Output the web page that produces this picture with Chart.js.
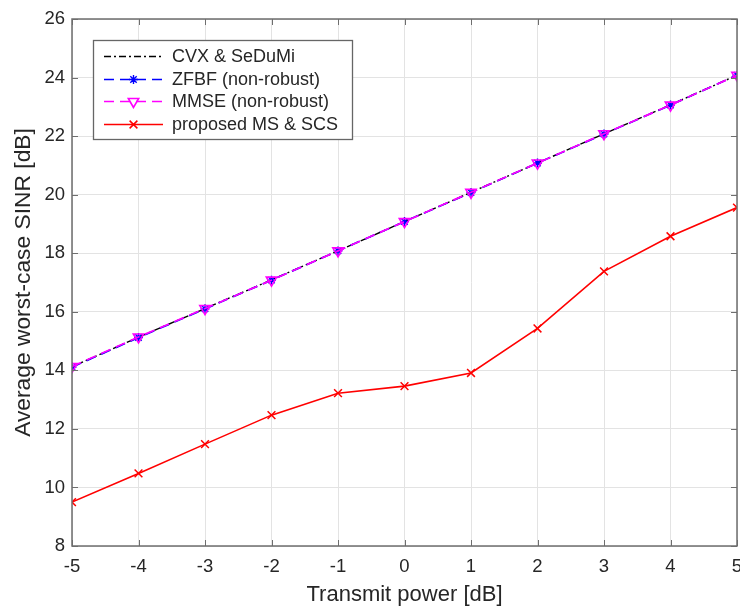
<!DOCTYPE html>
<html>
<head>
<meta charset="utf-8">
<script src="https://cdn.jsdelivr.net/npm/chart.js@4/dist/chart.umd.min.js"></script>
<style>
  html, body { margin: 0; padding: 0; background: #fff; }
  #wrap { width: 740px; height: 610px; }
</style>
</head>
<body>
<div id="wrap"><canvas id="c" width="740" height="610"></canvas></div>
<script>
// Transmit power grid (dB)
const powerDb = [-5, -4, -3, -2, -1, 0, 1, 2, 3, 4, 5];

// Average worst-case SINR (dB) per scheme
const cvxSedumi   = [14.12, 15.13, 16.11, 17.09, 18.08, 19.08, 20.08, 21.08, 22.08, 23.07, 24.08];
const zfbfNonRob  = [14.11, 15.12, 16.10, 17.08, 18.08, 19.08, 20.07, 21.08, 22.07, 23.06, 24.08];
const mmseNonRob  = [14.13, 15.14, 16.11, 17.08, 18.08, 19.08, 20.08, 21.08, 22.08, 23.06, 24.08];
const proposedMs  = [9.50, 10.48, 11.48, 12.47, 13.22, 13.46, 13.91, 15.43, 17.38, 18.58, 19.56];

const seriesNames = ['CVX & SeDuMi', 'ZFBF (non-robust)', 'MMSE (non-robust)', 'proposed MS & SCS'];

const yTicks = [8, 10, 12, 14, 16, 18, 20, 22, 24, 26];

const toPts = arr => arr.map((v, i) => ({ x: powerDb[i], y: v }));

const FONT = '"Liberation Sans", Arial, Helvetica, sans-serif';
const AXIS_COL = '#6e6e6e';
const TEXT_COL = '#262626';
const TICK_FONT = '18.5px ' + FONT;

// inward tick marks on all four sides, the axes box and the x tick labels
const boxPlugin = {
  id: 'box',
  afterDraw(chart) {
    const { ctx, chartArea: a, scales } = chart;
    ctx.save();
    ctx.strokeStyle = AXIS_COL;
    ctx.lineWidth = 1;
    const L = 6;
    ctx.beginPath();
    scales.x.ticks.forEach(t => {
      const px = Math.round(scales.x.getPixelForValue(t.value)) + 0.5;
      ctx.moveTo(px, a.bottom); ctx.lineTo(px, a.bottom - L);
      ctx.moveTo(px, a.top); ctx.lineTo(px, a.top + L);
    });
    scales.y.ticks.forEach(t => {
      const py = Math.round(scales.y.getPixelForValue(t.value)) + 0.5;
      ctx.moveTo(a.left, py); ctx.lineTo(a.left + L, py);
      ctx.moveTo(a.right, py); ctx.lineTo(a.right - L, py);
    });
    ctx.stroke();
    ctx.lineWidth = 1.5;
    ctx.strokeRect(a.left, a.top, a.right - a.left, a.bottom - a.top);

    ctx.fillStyle = TEXT_COL;
    ctx.font = TICK_FONT;
    ctx.textAlign = 'center';
    ctx.textBaseline = 'middle';
    scales.x.ticks.forEach(t => {
      ctx.fillText(String(t.value), scales.x.getPixelForValue(t.value), a.bottom + 21);
    });
    ctx.restore();
  }
};

// boxed legend in the upper-left corner of the plot
const legendPlugin = {
  id: 'boxLegend',
  afterDraw(chart) {
    const { ctx } = chart;
    const x0 = 93, y0 = 40, w = 259, h = 99;
    ctx.save();
    ctx.fillStyle = '#fff';
    ctx.fillRect(x0, y0, w, h);
    ctx.strokeStyle = '#666';
    ctx.lineWidth = 1.3;
    ctx.strokeRect(x0 + 0.5, y0 + 0.5, w, h);
    const rowY = [56, 79, 101, 124];
    chart.data.datasets.forEach((ds, r) => {
      const y = rowY[r] + 0.5;
      ctx.strokeStyle = ds.borderColor;
      ctx.lineWidth = ds.borderWidth;
      ctx.setLineDash(ds.borderDash || []);
      ctx.beginPath();
      ctx.moveTo(104, y); ctx.lineTo(163, y);
      ctx.stroke();
      ctx.setLineDash([]);
      if (ds.pointStyle && ds.pointRadius > 0) {
        ctx.strokeStyle = ds.pointBorderColor;
        ctx.fillStyle = 'rgba(0,0,0,0)';
        ctx.lineWidth = ds.pointBorderWidth || 1;
        Chart.helpers.drawPoint(ctx, {
          pointStyle: ds.pointStyle,
          rotation: ds.pointRotation || 0,
          radius: ds.pointRadius,
          borderWidth: ds.pointBorderWidth || 1
        }, 133.5, y);
      }
      ctx.fillStyle = TEXT_COL;
      ctx.font = '18px ' + FONT;
      ctx.textBaseline = 'middle';
      ctx.textAlign = 'left';
      ctx.fillText(ds.label, 172, y + 1);
    });
    ctx.restore();
  }
};

new Chart(document.getElementById('c'), {
  type: 'line',
  data: {
    datasets: [
      {
        label: seriesNames[0], data: toPts(cvxSedumi),
        borderColor: '#000', borderWidth: 1.4, borderDash: [7, 3, 2, 3],
        pointRadius: 0, pointStyle: false, order: 4
      },
      {
        label: seriesNames[1], data: toPts(zfbfNonRob),
        borderColor: '#0000ff', borderWidth: 1.7, borderDash: [10, 6],
        pointStyle: 'star', pointRadius: 4.5, pointBorderColor: '#0000ff',
        pointBackgroundColor: 'rgba(0,0,0,0)', pointBorderWidth: 1.4, order: 3
      },
      {
        label: seriesNames[2], data: toPts(mmseNonRob),
        borderColor: '#ff00ff', borderWidth: 1.7, borderDash: [10, 6],
        pointStyle: 'triangle', pointRotation: 180, pointRadius: 6,
        pointBorderColor: '#ff00ff', pointBackgroundColor: 'rgba(0,0,0,0)',
        pointBorderWidth: 1.6, order: 2
      },
      {
        label: seriesNames[3], data: toPts(proposedMs),
        borderColor: '#ff0000', borderWidth: 1.6,
        pointStyle: 'crossRot', pointRadius: 5.5, pointBorderColor: '#ff0000',
        pointBackgroundColor: 'rgba(0,0,0,0)', pointBorderWidth: 1.5, order: 1
      }
    ]
  },
  options: {
    responsive: false,
    animation: false,
    devicePixelRatio: 1,
    layout: { autoPadding: false, padding: { top: 19, right: 3, left: 0, bottom: 0 } },
    plugins: { legend: { display: false }, tooltip: { enabled: false } },
    elements: { line: { tension: 0 } },
    scales: {
      x: {
        type: 'linear', min: -5, max: 5,
        afterBuildTicks: s => { s.ticks = powerDb.map(v => ({ value: v })); },
        grid: { color: '#e3e3e3', lineWidth: 1, drawTicks: false },
        border: { display: false },
        ticks: { display: false },
        title: { display: true, text: 'Transmit power [dB]', color: TEXT_COL,
                 font: { family: FONT, size: 22 }, padding: { top: 2, bottom: 2 } },
        afterFit: s => { s.height = 64; }
      },
      y: {
        type: 'linear', min: 8, max: 26,
        afterBuildTicks: s => { s.ticks = yTicks.map(v => ({ value: v })); },
        grid: { color: '#e3e3e3', lineWidth: 1, drawTicks: false },
        border: { display: false },
        ticks: { color: TEXT_COL, font: { family: FONT, size: 18.5 }, padding: 7 },
        title: { display: true, text: 'Average worst-case SINR [dB]', color: TEXT_COL,
                 font: { family: FONT, size: 22.8 }, padding: { top: 10, bottom: 0 } },
        afterFit: s => { s.width = 72; s.paddingTop = 0; s.paddingBottom = 0; }
      }
    }
  },
  plugins: [boxPlugin, legendPlugin]
});
</script>
</body>
</html>
